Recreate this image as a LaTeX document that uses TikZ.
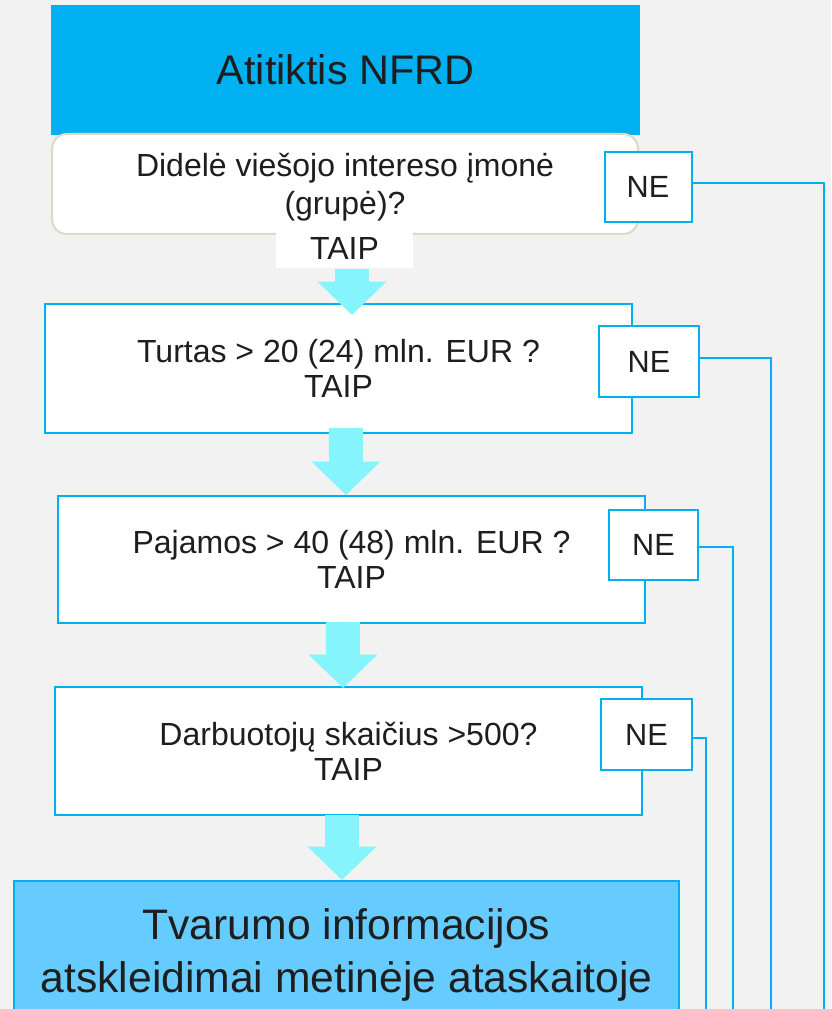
\documentclass[tikz,border=0pt]{standalone}
\usepackage{fontspec}
\setmainfont{Liberation Sans}
\usetikzlibrary{arrows.meta}

\definecolor{nfrdblue}{HTML}{00B0F0}
\definecolor{paleblue}{HTML}{66CCFF}
\definecolor{arrowcyan}{HTML}{86F4FD}
\definecolor{beige}{HTML}{DDD9C3}
\definecolor{canvas}{HTML}{F2F2F2}
\definecolor{ink}{HTML}{1E1E1E}

\tikzset{every picture/.style={line width=0.75pt}}
\tikzset{
  headbox/.style={fill=nfrdblue, text=ink, minimum width=441.75pt, minimum height=97.5pt, inner sep=0pt, font=\fontsize{31}{37}\selectfont},
  qbox/.style={draw=nfrdblue, line width=1.5pt, fill=white, text=ink, align=center, inner sep=0pt, font=\fontsize{24}{26.25}\selectfont},
  taipbox/.style={fill=white, text=ink, minimum width=102.75pt, minimum height=27pt, inner sep=0pt, font=\fontsize{24}{26}\selectfont},
  nebox/.style={draw=nfrdblue, line width=1.5pt, fill=white, text=ink, inner sep=0pt, font=\fontsize{23}{26}\selectfont},
  neline/.style={draw=nfrdblue, line width=1.5pt},
  bigarrow/.style={draw=arrowcyan, line width=25.5pt, -{Triangle[width=50pt,length=25pt]}},
}

\begin{document}
\begin{tikzpicture}[x=0.75pt,y=0.75pt,yscale=-1,xscale=1]
\clip (0,0) rectangle (831,1009);
\fill[canvas] (0,0) rectangle (831,1009);

% Header
\node[headbox] (head) at (345.5,70) {\raisebox{-2pt}{Atitiktis NFRD}};

% Questions
\node[qbox, draw=beige, rounded corners=11pt, minimum width=439.5pt, minimum height=75pt, font=\fontsize{24}{28.5}\selectfont, text depth=0pt] (q1) at (345,184) {Didelė viešojo intereso įmonė\\(grupė)?};
\node[taipbox] (t1) at (344.5,250) {\raisebox{3pt}{TAIP}};
\node[qbox, minimum width=440.25pt, minimum height=96.75pt] (q2) at (338.5,368.5) {Turtas > 20 (24) mln. EUR ?\\TAIP};
\node[qbox, minimum width=440.25pt, minimum height=95.25pt] (q3) at (351.5,559.5) {Pajamos > 40 (48) mln. EUR ?\\TAIP};
\node[qbox, minimum width=440.25pt, minimum height=96pt] (q4) at (348.5,751) {Darbuotojų skaičius >500?\\TAIP};

% Result
\node[qbox, fill=paleblue, minimum width=498.75pt, minimum height=111pt, font=\fontsize{32}{40}\selectfont] (res) at (346.5,955) {Tvarumo informacijos\\atskleidimai metinėje ataskaitoje};

% NE branches
\coordinate (e1) at (824,1030);
\coordinate (e2) at (771,1030);
\coordinate (e3) at (733,1030);
\coordinate (e4) at (706,1030);

\node[nebox, minimum width=65.25pt, minimum height=52.5pt] (ne1) at (648,187) {NE};
\node[nebox, minimum width=75pt, minimum height=53.25pt] (ne2) at (649,361.5) {NE};
\node[nebox, minimum width=66.75pt, minimum height=52.5pt] (ne3) at (653.5,545) {NE};
\node[nebox, minimum width=68.25pt, minimum height=53.25pt] (ne4) at (646.5,734.5) {NE};

\draw[neline] ([yshift=-3pt]ne1.east) -| (e1);
\draw[neline] ([yshift=-2.6pt]ne2.east) -| (e2);
\draw[neline] ([yshift=1.5pt]ne3.east) -| (e3);
\draw[neline] ([yshift=2.6pt]ne4.east) -| (e4);

% TAIP arrows
\draw[bigarrow] ([xshift=5.6pt]t1.south) -- ([xshift=10.1pt,yshift=9pt]q2.north);
\draw[bigarrow] ([xshift=5.6pt,yshift=-4.5pt]q2.south) -- ([xshift=-4.1pt]q3.north);
\draw[bigarrow] ([xshift=-6.4pt,yshift=-1.5pt]q3.south) -- ([xshift=-4.1pt,yshift=1.5pt]q4.north);
\draw[bigarrow] ([xshift=-4.9pt,yshift=-0.75pt]q4.south) -- ([xshift=-3.4pt]res.north);

\end{tikzpicture}
\end{document}
